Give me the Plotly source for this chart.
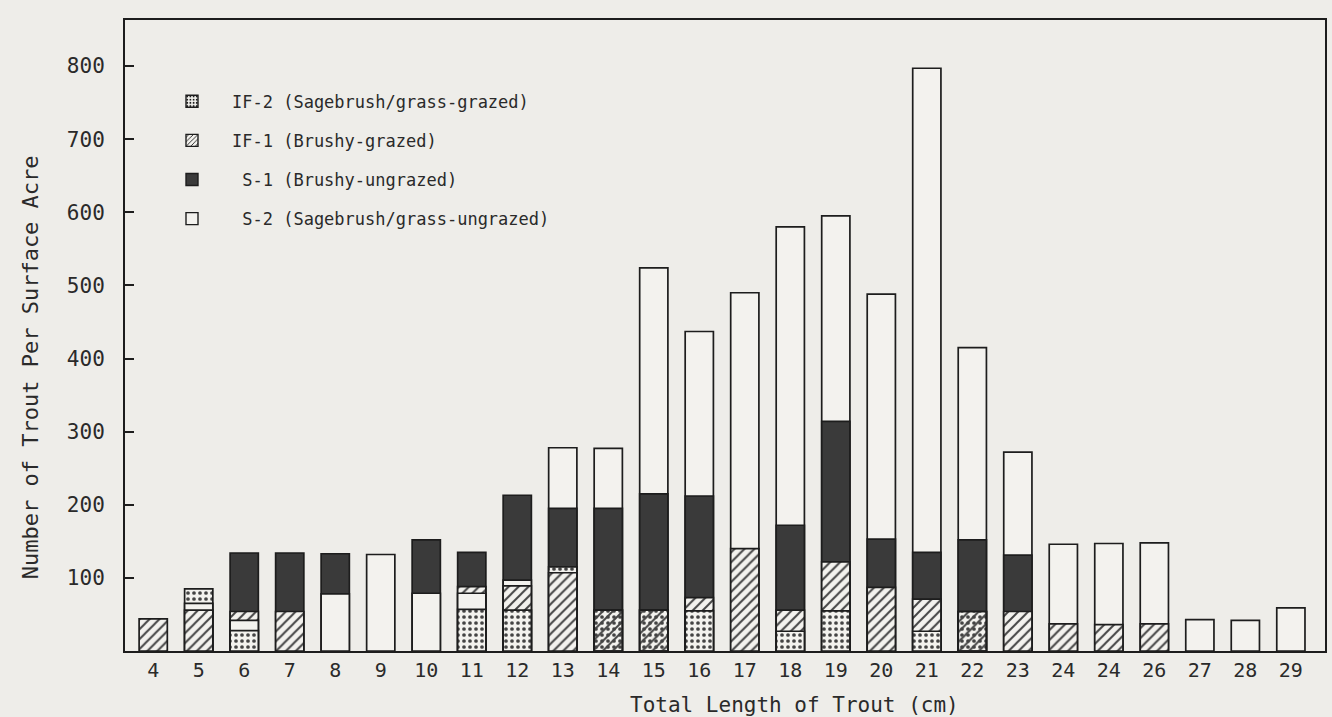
import plotly.graph_objects as go

# ---- data (trout per surface acre) ----
categories = ["4", "5", "6", "7", "8", "9", "10", "11", "12", "13", "14", "15", "16",
              "17", "18", "19", "20", "21", "22", "23", "24", "24", "26", "27", "28", "29"]
IF2 = [0, 85, 28, 0, 0, 0, 0, 57, 56, 115, 56, 56, 55, 0, 27, 55, 0, 27, 54, 0, 0, 0, 0, 0, 0, 0]
IF1 = [44, 56, 54, 54, 0, 0, 0, 88, 89, 107, 56, 56, 73, 140, 56, 122, 87, 71, 54, 54, 37, 36, 37, 0, 0, 0]
S1 = [0, 0, 134, 134, 133, 0, 152, 135, 213, 195, 195, 215, 212, 0, 172, 314, 153, 135, 152, 131, 0, 0, 0, 0, 0, 0]
S2 = [0, 65, 42, 0, 78, 132, 79, 79, 97, 278, 277, 524, 437, 490, 580, 595, 488, 797, 415, 272, 146, 147, 148, 43, 42, 59]

series_names = ["IF-2 (Sagebrush/grass-grazed)", "IF-1 (Brushy-grazed)",
                " S-1 (Brushy-ungrazed)", " S-2 (Sagebrush/grass-ungrazed)"]
series_values = [IF2, IF1, S1, S2]
x_title = "Total Length of Trout (cm)"
y_title = "Number of Trout Per Surface Acre"

PAPER = "#eeede9"
WHITE = "#f3f2ee"
DARK = "#3a3a3a"
INK = "#1d1d1d"
TEXT = "#2a2a2a"
FONT = "DejaVu Sans Mono"

styles = [
    dict(color=WHITE, shape=".", size=6, solidity=0.3),    # IF-2 dotted
    dict(color=WHITE, shape="/", size=7, solidity=0.28),   # IF-1 hatched
    dict(color=DARK, shape="", size=7, solidity=0.3),      # S-1 dark
    dict(color=WHITE, shape="", size=7, solidity=0.3),     # S-2 open
]

x = list(range(len(categories)))
fig = go.Figure()

# Overlapping bars: each series starts at zero, larger values drawn behind smaller ones.
n_layers = len(series_values)
layers = [dict(y=[None] * len(x), color=[WHITE] * len(x), shape=[""] * len(x),
               size=[7] * len(x), sol=[0.3] * len(x)) for _ in range(n_layers)]
for i in range(len(x)):
    items = [(series_values[s][i], s) for s in range(n_layers) if series_values[s][i] > 0]
    items.sort(key=lambda t: (-t[0], t[1]))
    drawn = []
    for r, (v, s) in enumerate(items):
        st = styles[s]
        L = layers[r]
        L["y"][i] = v
        L["shape"][i] = st["shape"]
        L["size"][i] = st["size"]
        L["sol"][i] = st["solidity"]
        # equal values: let the pattern beneath show through (cross-hatch)
        L["color"][i] = "rgba(0,0,0,0)" if v in drawn else st["color"]
        drawn.append(v)

for L in layers:
    fig.add_trace(go.Bar(
        x=x, y=L["y"], showlegend=False, hoverinfo="skip",
        marker=dict(color=L["color"], line=dict(color=INK, width=1.7),
                    pattern=dict(shape=L["shape"], fgcolor=INK, fgopacity=1,
                                 size=L["size"], solidity=L["sol"], fillmode="overlay")),
    ))

# legend entries
for s, name in enumerate(series_names):
    st = styles[s]
    fig.add_trace(go.Bar(
        x=[None], y=[None], name=name, legendgroup=str(s),
        marker=dict(color=st["color"], line=dict(color=INK, width=1.4),
                    pattern=dict(shape=st["shape"], fgcolor=INK, fgopacity=1, size=4,
                                 solidity=st["solidity"], fillmode="overlay")),
    ))

fig.add_annotation(text=x_title, xref="paper", yref="paper", x=0.558, y=-0.086,
                   xanchor="center", yanchor="middle", showarrow=False,
                   font=dict(family=FONT, size=21, color=TEXT))
fig.add_annotation(text=y_title, xref="paper", yref="paper", x=-0.079, y=0.45,
                   xanchor="center", yanchor="middle", showarrow=False, textangle=-90,
                   font=dict(family=FONT, size=22, color=TEXT))

fig.update_layout(
    width=1332, height=717,
    margin=dict(l=125, r=7, t=20, b=66),
    paper_bgcolor=PAPER, plot_bgcolor=PAPER,
    barmode="overlay", bargap=0.38,
    font=dict(family=FONT, color=TEXT),
    legend=dict(x=0.0225, y=0.899, xanchor="left", yanchor="top", itemwidth=70,
                bgcolor="rgba(0,0,0,0)", font=dict(family=FONT, size=17, color=TEXT),
                tracegroupgap=14, traceorder="grouped", itemclick=False),
    xaxis=dict(range=[-0.62, 25.75], tickmode="array", tickvals=x, ticktext=categories,
               showline=True, linecolor=INK, linewidth=2, mirror=True,
               ticks="", showgrid=False, zeroline=False, automargin=False,
               tickfont=dict(family=FONT, size=20, color=TEXT),
               ticklabelstandoff=0),
    yaxis=dict(range=[0, 863], tickvals=[100, 200, 300, 400, 500, 600, 700, 800],
               showline=True, linecolor=INK, linewidth=2, mirror=True,
               ticks="inside", ticklen=9, tickwidth=1.5, tickcolor=INK,
               showgrid=False, zeroline=False, automargin=False,
               tickfont=dict(family=FONT, size=21, color=TEXT),
               ticklabelstandoff=14),
)

fig.write_html("out.html", config={"displayModeBar": False},
               post_script="document.body.style.margin='0px';"
                           "document.body.style.background='" + PAPER + "';")
